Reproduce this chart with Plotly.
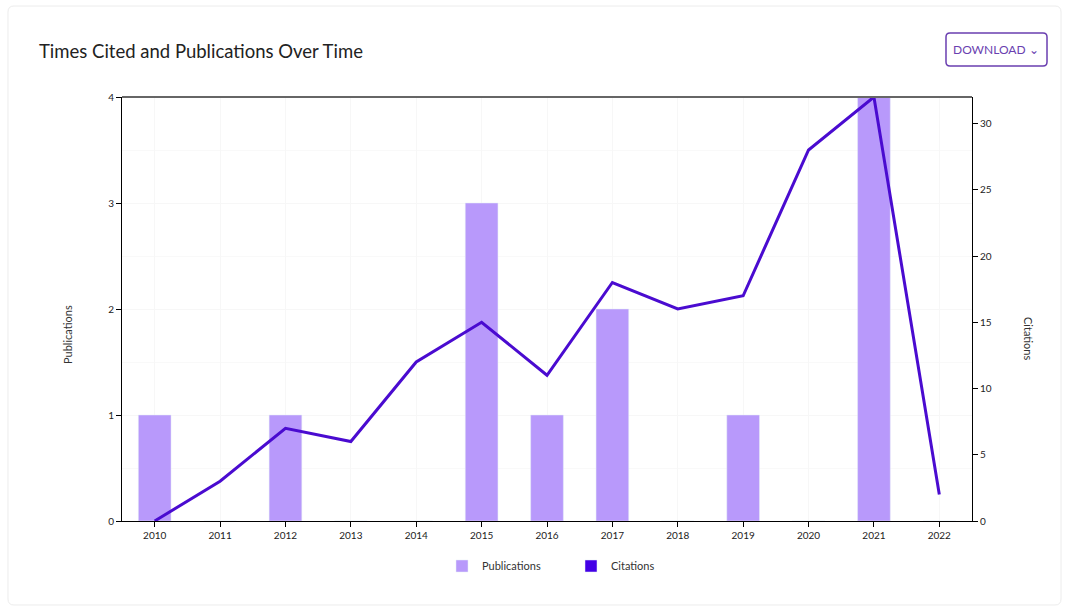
import plotly.graph_objects as go

years = [2010, 2011, 2012, 2013, 2014, 2015, 2016, 2017, 2018, 2019, 2020, 2021, 2022]
publications = [1, 0, 1, 0, 0, 3, 1, 2, 0, 1, 0, 4, 0]
citations = [0, 3, 7, 6, 12, 15, 11, 18, 16, 17, 28, 32, 2]

BAR = "#b899fb"
LINE = "#4a0bd0"
FONT = "Lato"

W, H = 1068, 608
L, R, T, B = 122, 96, 97, 87
pw, ph = W - L - R, H - T - B


def px(x):
    return (x - L) / pw


def py(y):
    return (H - B - y) / ph


def rounded_rect(x0, y0, x1, y1, r):
    # pixel coords -> paper-coord SVG path with rounded corners
    pts = [
        ("M", x0 + r, y0), ("L", x1 - r, y0), ("Q", x1, y0, x1, y0 + r),
        ("L", x1, y1 - r), ("Q", x1, y1, x1 - r, y1), ("L", x0 + r, y1),
        ("Q", x0, y1, x0, y1 - r), ("L", x0, y0 + r), ("Q", x0, y0, x0 + r, y0),
    ]
    s = ""
    for p in pts:
        cmd, coords = p[0], p[1:]
        vals = []
        for i in range(0, len(coords), 2):
            vals.append(f"{px(coords[i]):.5f},{py(coords[i + 1]):.5f}")
        s += cmd + " ".join(vals) + " "
    return s + "Z"


fig = go.Figure()
fig.add_trace(go.Bar(x=years, y=publications, name="Publications", marker_color=BAR,
                     width=0.5, yaxis="y", showlegend=True))
fig.add_trace(go.Scatter(x=years, y=citations, name="Citations", mode="lines",
                         line=dict(color=LINE, width=3), yaxis="y2", showlegend=False))
# legend swatch for the line series (square, as in the reference)
fig.add_trace(go.Bar(x=[None], y=[None], name="Citations", marker_color="#4300e6",
                     yaxis="y2", showlegend=True))

fig.update_layout(
    width=W, height=H,
    margin=dict(l=L, r=R, t=T, b=B),
    paper_bgcolor="white", plot_bgcolor="white",
    font=dict(family=FONT, size=10, color="#333"),
    showlegend=True,
    legend=dict(orientation="h", x=px(442), xanchor="left", y=py(566), yanchor="middle",
                font=dict(size=11, color="#333"), itemwidth=30, traceorder="normal",
                entrywidth=84, entrywidthmode="pixels"),
    bargap=0.5,
    xaxis=dict(range=[2009.5, 2022.5], tickmode="array", tickvals=years,
               ticktext=[str(y) for y in years], showline=True, linecolor="black",
               linewidth=1, ticks="outside", ticklen=5, tickcolor="black",
               showgrid=True, gridcolor="#f7f7f7", zeroline=False,
               tickfont=dict(size=10, color="#222")),
    yaxis=dict(range=[0, 4], dtick=1, showline=True, linecolor="black", linewidth=1,
               ticks="outside", ticklen=5, tickcolor="black", showgrid=True,
               gridcolor="#f7f7f7", zeroline=False,
               minor=dict(dtick=0.5, showgrid=True, gridcolor="#f9f9f9"),
               tickfont=dict(size=10, color="#222")),
    yaxis2=dict(range=[0, 32], tickvals=[0, 5, 10, 15, 20, 25, 30], overlaying="y",
                side="right", showline=True, linecolor="black", linewidth=1,
                ticks="outside", ticklen=5, tickcolor="black", showgrid=False,
                zeroline=False, tickfont=dict(size=10, color="#222")),
)

fig.add_annotation(text="Times Cited and Publications Over Time", xref="paper", yref="paper",
                   x=px(37), y=py(51), xanchor="left", yanchor="middle", showarrow=False,
                   font=dict(family=FONT, size=18.5, color="#222"))
fig.add_annotation(text="Publications", xref="paper", yref="paper", x=px(67), y=py(335),
                   xanchor="center", yanchor="middle", textangle=-90, showarrow=False,
                   font=dict(size=11, color="#333"))
fig.add_annotation(text="Citations", xref="paper", yref="paper", x=px(1029), y=py(338),
                   xanchor="center", yanchor="middle", textangle=90, showarrow=False,
                   font=dict(size=11, color="#333"))
fig.add_annotation(text="DOWNLOAD \u2304", xref="paper", yref="paper", x=px(996), y=py(50),
                   xanchor="center", yanchor="middle", showarrow=False,
                   font=dict(size=12, color="#6a3fb0"))

# top border line of plot area
fig.add_shape(type="line", xref="paper", yref="paper", x0=0, x1=1, y0=1, y1=1,
              line=dict(color="#666", width=2))
# download button (rounded)
fig.add_shape(type="path", xref="paper", yref="paper",
              path=rounded_rect(946, 33, 1047, 66, 4),
              line=dict(color="#6a3fb0", width=1.5))
# card border
fig.add_shape(type="path", xref="paper", yref="paper",
              path=rounded_rect(8, 6, 1061, 605, 6),
              line=dict(color="#ececec", width=1), layer="below")

fig.write_html("out.html")
